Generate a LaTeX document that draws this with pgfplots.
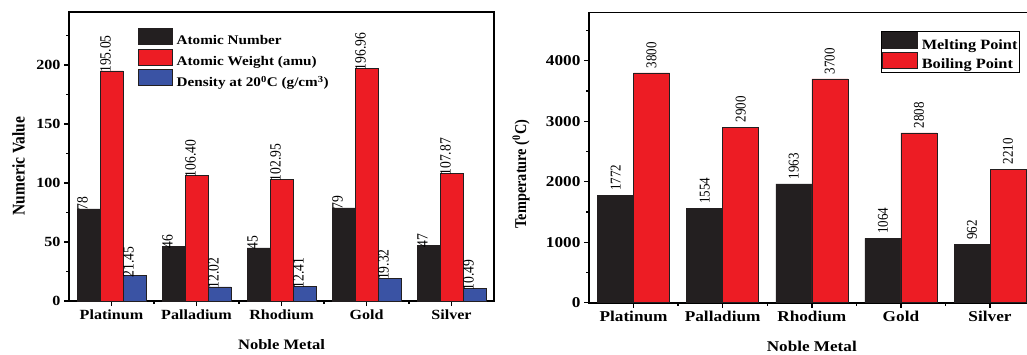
\documentclass[border=0pt]{standalone}
\usepackage{fontspec}
\setmainfont{Liberation Serif}[FakeStretch=1.15]
\newfontfamily\rotfont{Liberation Serif}
\usepackage{pgfplots}
\pgfplotsset{compat=1.18}
\definecolor{cblack}{HTML}{231F20}
\definecolor{cred}{HTML}{ED1C24}
\definecolor{cblue}{HTML}{3A53A4}
\pgfplotsset{
  mybase/.style={
    scale only axis,
    axis line style={line width=1.6pt},
    tick style={line width=1.4pt, black},
    major tick length=5pt, minor tick length=3pt,
    tick align=outside,
    xtick pos=bottom, ytick pos=left,
    ymin=0, xmin=-0.5, xmax=4.5,
    xtick={0,1,2,3,4},
    xticklabels={Platinum,Palladium,Rhodium,Gold,Silver},
    minor xtick={0.5,1.5,2.5,3.5},
    /pgf/number format/assume math mode=true,
    /pgf/number format/1000 sep={},
    ybar=0pt,
    nodes near coords,
    point meta=explicit symbolic,
    legend cell align=left,
  }
}
\begin{document}
\begin{tikzpicture}
\begin{axis}[mybase,
  at={(69pt,-301pt)}, anchor=south west,
  width=425pt, height=289pt,
  ymax=245, ytick={0,50,...,200}, minor ytick={25,75,...,225},
  bar width=23pt,
  ticklabel style={font=\bfseries\fontsize{14}{16}\selectfont},
  xlabel={Noble Metal}, ylabel={Numeric Value},
  xlabel style={font=\bfseries\fontsize{14.4}{16}\selectfont, at={(axis description cs:0.5,-0.1522)}, anchor=center},
  ylabel style={font=\rotfont\bfseries\fontsize{15.5}{17}\selectfont, at={(axis description cs:-0.1188,0.467)}, anchor=center, yscale=1.15},
  every node near coord/.append style={font=\rotfont\fontsize{13.6}{15}\selectfont, xshift=-6pt, yshift=-2pt, rotate=90, yscale=1.15, anchor=west, inner sep=0pt, text=black},
  legend style={draw=none, fill=none, at={(axis description cs:0.161,0.945)}, anchor=north west, inner sep=0pt, font=\bfseries\fontsize{13.2}{15}\selectfont, nodes={inner sep=1.5pt}, row sep=1pt, /tikz/every odd column/.append style={column sep=3pt}},
  legend image code/.code={\filldraw[#1] (0pt,-3.5pt) rectangle (34pt,12.5pt);},
]
\addplot[fill=cblack, draw=cblack, line width=0.6pt] coordinates {(0,78)[78] (1,46)[46] (2,45)[45] (3,79)[79] (4,47)[47]};
\addplot[fill=cred, draw=cblack, line width=0.6pt] coordinates {(0,195.05)[195.05] (1,106.40)[106.40] (2,102.95)[102.95] (3,196.96)[196.96] (4,107.87)[107.87]};
\addplot[fill=cblue, draw=cblack, line width=0.6pt] coordinates {(0,21.45)[21.45] (1,12.02)[12.02] (2,12.41)[12.41] (3,19.32)[19.32] (4,10.49)[10.49]};
\legend{Atomic Number, Atomic Weight (amu), Density at 20\textsuperscript{0}C (g/cm\textsuperscript{3})}
\end{axis}
\begin{axis}[mybase,
  at={(589pt,-302.7pt)}, anchor=south west,
  width=445.6pt, height=290.4pt,
  ymax=4800, ytick={0,1000,...,4000}, minor ytick={500,1500,...,4500},
  bar width=36pt,
  ticklabel style={font=\bfseries\fontsize{15}{17}\selectfont},
  xlabel={Noble Metal}, ylabel={Temperature (\textsuperscript{0}C)},
  xlabel style={font=\bfseries\fontsize{14.9}{17}\selectfont, at={(axis description cs:0.5,-0.150)}, anchor=center},
  ylabel style={font=\rotfont\bfseries\fontsize{14.3}{16}\selectfont, at={(axis description cs:-0.1526,0.443)}, anchor=center, yscale=1.15},
  every node near coord/.append style={font=\rotfont\fontsize{13}{15}\selectfont, yshift=4.5pt, rotate=90, yscale=1.15, anchor=west, inner sep=0pt, text=black},
  legend style={draw=black, line width=0.8pt, fill=white, at={(axis description cs:0.967,0.9356)}, anchor=north east, inner sep=1pt, font=\bfseries\fontsize{14.2}{16}\selectfont, nodes={inner sep=1pt}, row sep=0pt, /tikz/every odd column/.append style={column sep=3pt}},
  legend image code/.code={\filldraw[#1] (0pt,-3.5pt) rectangle (35pt,12.5pt);},
]
\addplot[fill=cblack, draw=cblack, line width=0.6pt] coordinates {(0,1772)[1772] (1,1554)[1554] (2,1963)[1963] (3,1064)[1064] (4,962)[962]};
\addplot[fill=cred, draw=cblack, line width=0.6pt] coordinates {(0,3800)[3800] (1,2900)[2900] (2,3700)[3700] (3,2808)[2808] (4,2210)[2210]};
\legend{Melting Point, Boiling Point}
\end{axis}
\pgfresetboundingbox
\path[use as bounding box] (0pt,0pt) rectangle (1027pt,-354pt);
\end{tikzpicture}
\end{document}
